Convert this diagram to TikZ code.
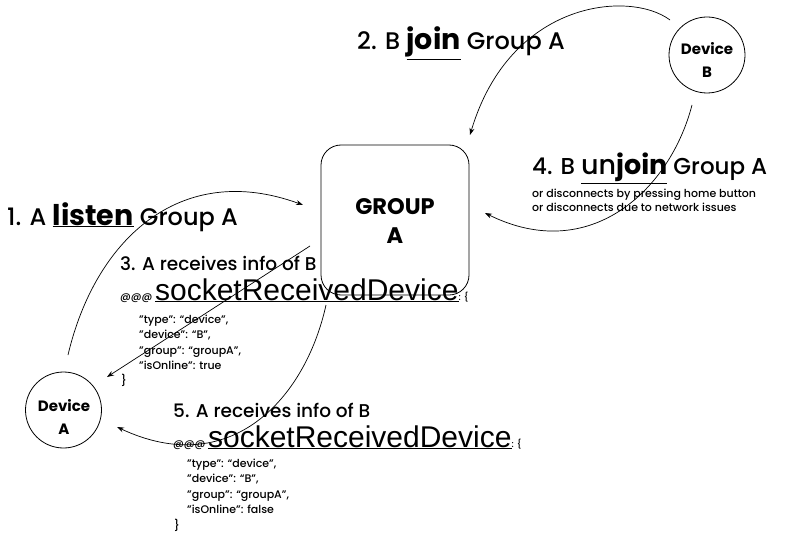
\documentclass[tikz,border=0pt]{standalone}
\usepackage{fontspec}
\setmainfont{Poppins}[UprightFont={* Medium}, BoldFont={* Bold}]
\newfontfamily\arialf{Liberation Sans}
\usetikzlibrary{arrows.meta}
\tikzset{
  arr/.style={-{Stealth[length=7pt,width=5pt]}, line width=0.7pt},
  dev/.style={circle, draw, line width=0.8pt, minimum size=76pt, inner sep=0pt},
  devtext/.style={align=center, inner sep=0pt, font=\bfseries\fontsize{15}{23}\selectfont},
  grp/.style={draw, rounded corners=20pt, line width=0.8pt, minimum width=148pt, minimum height=150pt, inner sep=0pt},
  grptext/.style={align=center, inner sep=0pt, font=\bfseries\fontsize{22.5}{29}\selectfont},
  lbl/.style={anchor=base west, inner sep=0pt},
  title/.style={lbl, font=\fontsize{24}{25}\selectfont},
  sub/.style={lbl, font=\fontsize{18.5}{20}\selectfont},
  json/.style={lbl, font=\fontsize{11}{13}\selectfont},
  note/.style={lbl, font=\fontsize{11}{12}\selectfont},
}
\newcommand{\kw}[1]{\underline{\bfseries\fontsize{28.5}{28}\selectfont #1}}
\newcommand{\evt}{{\fontsize{10.5}{10}\selectfont @@@} {\arialf\fontsize{30}{30}\selectfont\underline{socketReceivedDevice}}{\fontsize{9}{10}\selectfont: \{}}
\begin{document}
\begin{tikzpicture}[x=1pt,y=-1pt]
\useasboundingbox (0,0) rectangle (786,540);
% nodes
\node[grp] (group) at (395,220) {};
\node[grptext] (grouptext) at (395,221) {GROUP\\A};
\node[dev] (devA) at (63.5,410) {};
\node[devtext] (devAtext) at (64,417) {Device\\A};
\node[dev] (devB) at (707,55) {};
\node[devtext] (devBtext) at (707,60) {Device\\B};
% labels
\node[title] (t1) at (7,225) {1. A \kw{listen} Group A};
\node[title] (t2) at (357,50) {2. B \kw{join} Group A};
\node[lbl, font=\fontsize{23}{25}\selectfont] (t4) at (532,175) {4. B \underline{{\fontsize{27}{27}\selectfont un}{\bfseries\fontsize{27}{27}\selectfont join}} Group A};
\node[note] (n4a) at (532,197) {or disconnects by pressing home button};
\node[note] (n4b) at (532,211.5) {or disconnects due to network issues};
\node[sub] (t3) at (120,270) {3. A receives info of B};
\node[lbl] (e3) at (120,300) {\evt};
\node[json] (j3a) at (139,323) {"type": “device",};
\node[json] (j3b) at (139,338.5) {"device": “B”,};
\node[json] (j3c) at (139,354) {"group": “groupA”,};
\node[json] (j3d) at (139,369) {"isOnline": true};
\node[json] (j3e) at (121,384) {\}};
\node[sub] (t5) at (173,417) {5. A receives info of B};
\node[lbl] (e5) at (173,447) {\evt};
\node[json] (j5a) at (187,467) {"type": “device",};
\node[json] (j5b) at (187,482.5) {"device": “B”,};
\node[json] (j5c) at (187,498) {"group": “groupA”,};
\node[json] (j5d) at (187,513) {"isOnline": false};
\node[json] (j5e) at (174,529) {\}};
% connector ends
\coordinate (a1s) at (68,355);
\coordinate (a1e) at (303,205);
\coordinate (a2s) at (670,20);
\coordinate (a2e) at (470,135);
\coordinate (a3s) at (310,246);
\coordinate (a3e) at (107,377);
\coordinate (a4s) at (692,105);
\coordinate (a4e) at (485,213);
\coordinate (a5s) at (326,305);
\coordinate (a5e) at (117,427);
% connectors
\draw[arr] (a1s) .. controls (95,240) and (180,160) .. (a1e);
\draw[arr] (a2s) .. controls (630,-10) and (510,0) .. (a2e);
\draw[arr] (a3s) -- (a3e);
\draw[arr] (a4s) .. controls (670,190) and (590,265) .. (a4e);
\draw[arr] (a5s) .. controls (305,400) and (230,480) .. (a5e);
\end{tikzpicture}
\end{document}
